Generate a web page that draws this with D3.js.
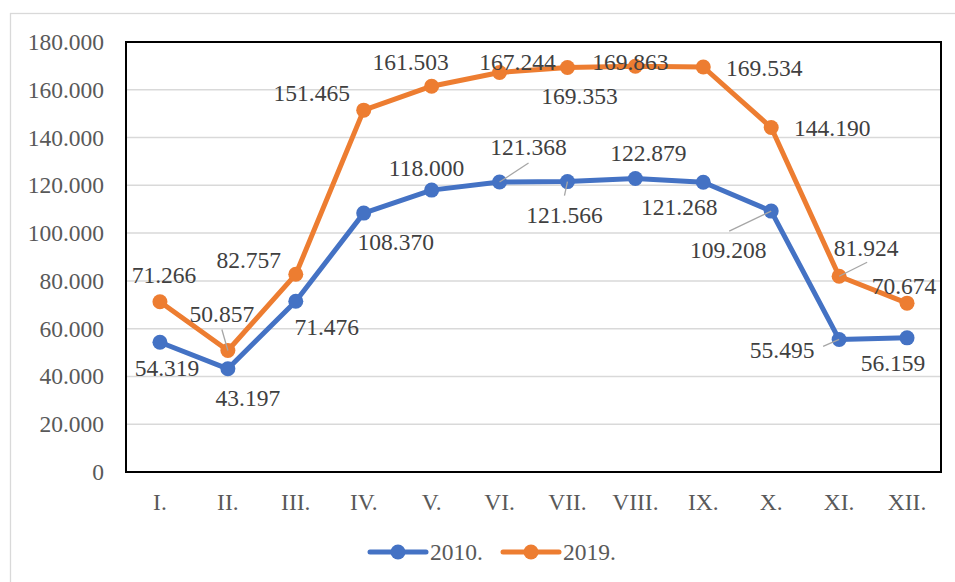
<!DOCTYPE html>
<html>
<head>
<meta charset="utf-8">
<script src="https://cdn.jsdelivr.net/npm/d3@7"></script>
<style>
  body { margin: 0; background: #fff; }
  svg { display: block; }
</style>
</head>
<body>
<svg id="chart" width="955" height="582"></svg>
<script>
// --- data ---
const months = ["I.", "II.", "III.", "IV.", "V.", "VI.", "VII.", "VIII.", "IX.", "X.", "XI.", "XII."];
const values2010 = [54.319, 43.197, 71.476, 108.370, 118.000, 121.368, 121.566, 122.879, 121.268, 109.208, 55.495, 56.159];
const values2019 = [71.266, 50.857, 82.757, 151.465, 161.503, 167.244, 169.353, 169.863, 169.534, 144.190, 81.924, 70.674];
const yTicks = [0, 20, 40, 60, 80, 100, 120, 140, 160, 180];

// label placement: offset of label centre from its point, optional leader start offset
const labelPos2010 = [[7, 26], [20, 29], [31, 26], [32, 29], [-5, -22], [29, -35, 29, -19], [-3, 33, -3, 14], [13, -26], [-24, 24], [-43, 39, -42, 20], [-57, 10, -16, 7], [-14, 25]];
const labelPos2019 = [[4, -27], [-6, -37, -6, -21], [-47, -15], [-52, -17], [-21, -24], [18, -11], [12, 28], [-5, -4], [61, 1], [61, 0], [27, -29, 28, -14], [-3, -17]];

const FONT = "Liberation Serif";
const FS = 23.5;
const svg = d3.select("#chart").attr("font-family", FONT);
const margin = { left: 126, top: 42, right: 941, bottom: 472 };

const fmt = v => v === 0 ? "0" : v.toFixed(3);

// outer chart frame
svg.append("rect").attr("x", 10.5).attr("y", 13.5).attr("width", 960).attr("height", 600)
    .attr("fill", "#fff").attr("stroke", "#d9d9d9").attr("stroke-width", 1.3);

const x = d3.scaleBand().domain(months).range([margin.left, margin.right]);
const y = d3.scaleLinear().domain([0, 180]).range([margin.bottom, margin.top]);

// gridlines
svg.append("g").selectAll("line").data(yTicks.slice(1, -1)).enter().append("line")
    .attr("x1", margin.left).attr("x2", margin.right)
    .attr("y1", d => y(d)).attr("y2", d => y(d))
    .attr("stroke", "#d9d9d9").attr("stroke-width", 1.5);

// y axis labels
const yAxis = d3.axisLeft(y).tickValues(yTicks).tickFormat(fmt).tickSize(0).tickPadding(22);
const gy = svg.append("g").attr("transform", `translate(${margin.left},0)`).call(yAxis)
    .attr("font-family", FONT).attr("font-size", FS);
gy.select(".domain").remove();
gy.selectAll("text").attr("fill", "#595959");

// x axis labels
const xAxis = d3.axisBottom(x).tickSize(0).tickPadding(21);
const gx = svg.append("g").attr("transform", `translate(0,${margin.bottom})`).call(xAxis)
    .attr("font-family", FONT).attr("font-size", FS);
gx.select(".domain").remove();
gx.selectAll("text").attr("fill", "#595959");

// plot border
svg.append("rect").attr("x", margin.left).attr("y", margin.top)
    .attr("width", margin.right - margin.left).attr("height", margin.bottom - margin.top)
    .attr("fill", "none").attr("stroke", "#000").attr("stroke-width", 2);

const series = [
    { name: "2010.", values: values2010, color: "#4472C4", labels: labelPos2010 },
    { name: "2019.", values: values2019, color: "#ED7D31", labels: labelPos2019 }
];

const cx = (d, i) => x(months[i]) + x.bandwidth() / 2;
const line = d3.line().x(cx).y(d => y(d));

series.forEach(s => {
    svg.append("path").datum(s.values)
        .attr("d", line).attr("fill", "none")
        .attr("stroke", s.color).attr("stroke-width", 5).attr("stroke-linejoin", "round");
    svg.append("g").selectAll("circle").data(s.values).enter().append("circle")
        .attr("cx", cx).attr("cy", d => y(d)).attr("r", 7.5).attr("fill", s.color);
});

// data labels
series.forEach(s => {
    const g = svg.append("g").attr("font-family", FONT).attr("font-size", FS);
    s.values.forEach((v, i) => {
        const px = cx(v, i), py = y(v);
        const [dx, dy, sx, sy] = s.labels[i];
        if (sx !== undefined) {
            g.append("line").attr("x1", px + sx).attr("y1", py + sy).attr("x2", px).attr("y2", py)
                .attr("stroke", "#a6a6a6").attr("stroke-width", 1.3);
        }
        g.append("text").attr("x", px + dx).attr("y", py + dy).attr("dy", "0.35em")
            .attr("text-anchor", "middle").attr("fill", "#404040")
            .text(fmt(v));
    });
});

// legend
const legend = svg.append("g").attr("font-family", FONT).attr("font-size", FS);
const legendItems = [{ s: series[0], x0: 370 }, { s: series[1], x0: 503 }];
legendItems.forEach(it => {
    const gl = legend.append("g").attr("transform", `translate(${it.x0},552)`);
    gl.append("line").attr("x1", 0).attr("x2", 56).attr("stroke", it.s.color)
        .attr("stroke-width", 5).attr("stroke-linecap", "round");
    gl.append("circle").attr("cx", 28).attr("r", 7.5).attr("fill", it.s.color);
    gl.append("text").attr("x", 60).attr("dy", "0.35em").attr("fill", "#595959")
        .text(it.s.name);
});
</script>
</body>
</html>
